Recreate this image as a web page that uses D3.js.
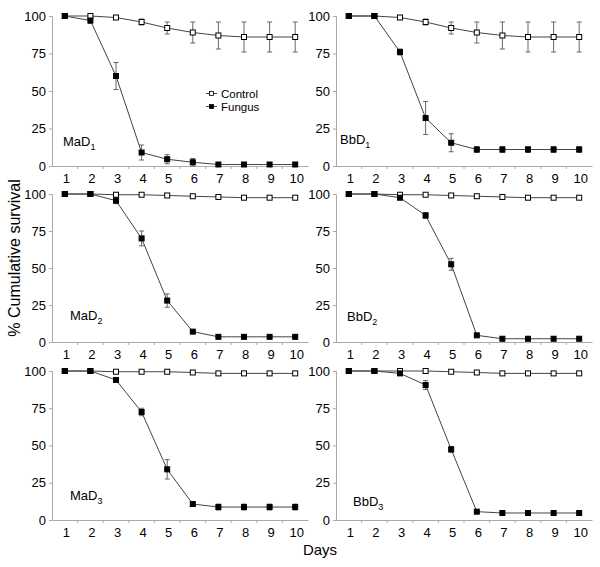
<!DOCTYPE html>
<html><head><meta charset="utf-8">
<script src="https://cdn.jsdelivr.net/npm/d3@7"></script>
<style>body{margin:0;background:#fff}svg{display:block;font-family:"Liberation Sans",Arial,sans-serif}</style>
</head><body><svg id="c" width="600" height="567"></svg>
<script>
const days = [1,2,3,4,5,6,7,8,9,10];
const yTicks = [0,25,50,75,100];
const seriesNames = ["Control","Fungus"];
const panelNames = ["MaD","BbD","MaD","BbD","MaD","BbD"];
const panelSubs = ["1","1","2","2","3","3"];

const maD1Control = [100,100,99,96,92,89,87,86,86,86];
const maD1ControlErr = [0,0,0.5,2,4,7,9,10,10,10];
const maD1Fungus = [100,97,60,9,4.5,2.5,1,1,1,1];
const maD1FungusErr = [0,2,9,5,3,2.5,0.5,0.5,0.5,0.5];

const bbD1Control = [100,100,99,96,92,89,87,86,86,86];
const bbD1ControlErr = [0,0,0.5,2,4,7,9,10,10,10];
const bbD1Fungus = [100,100,76,32,15.5,11,11,11,11,11];
const bbD1FungusErr = [0,0,2,11,6,2,2,2,2,2];

const maD2Control = [100,100,99.5,99.5,99,98.5,98,97.5,97.5,97.5];
const maD2ControlErr = [0,0,0.5,0.5,0.5,0.5,0.5,0.5,0.5,0.5];
const maD2Fungus = [100,100,95.5,70,28,7,3.5,3.5,3.5,3.5];
const maD2FungusErr = [0,0,2,5,4.5,0.5,0.5,0.5,0.5,0.5];

const bbD2Control = [100,100,99.5,99.5,99,98.5,98,97.5,97.5,97.5];
const bbD2ControlErr = [0,0,0.5,0.5,0.5,0.5,0.5,0.5,0.5,0.5];
const bbD2Fungus = [100,100,97.5,85.5,52.5,4.5,2.2,2.2,2.2,2.2];
const bbD2FungusErr = [0,0,1,2,4,0.5,0.5,0.5,0.5,0.5];

const maD3Control = [100,100,99.5,99.5,99.5,99,98.4,98.4,98.4,98.4];
const maD3ControlErr = [0,0,0.5,0.5,0.5,0.5,0.5,0.5,0.5,0.5];
const maD3Fungus = [100,100,94,72.5,34,10.7,8.7,8.7,8.7,8.7];
const maD3FungusErr = [0,0,1,2.5,6.5,1,2,2,2,2];

const bbD3Control = [100,100,100,100,99.5,99,98.4,98.4,98.4,98.4];
const bbD3ControlErr = [0,0,0.5,0.5,0.5,0.5,0.5,0.5,0.5,0.5];
const bbD3Fungus = [100,100,98.4,90.6,47.4,5.6,4.7,4.7,4.7,4.7];
const bbD3FungusErr = [0,0,1,3,2,0.5,0.5,0.5,0.5,0.5];

const panelData = [
  [maD1Control,maD1ControlErr,maD1Fungus,maD1FungusErr],
  [bbD1Control,bbD1ControlErr,bbD1Fungus,bbD1FungusErr],
  [maD2Control,maD2ControlErr,maD2Fungus,maD2FungusErr],
  [bbD2Control,bbD2ControlErr,bbD2Fungus,bbD2FungusErr],
  [maD3Control,maD3ControlErr,maD3Fungus,maD3FungusErr],
  [bbD3Control,bbD3ControlErr,bbD3Fungus,bbD3FungusErr]
];

// layout
const colX = [[52,308],[336,592]];
const rowY = [[166,16],[342,194],[520,371]];
const labelPos = [[63,146],[340,144],[70,320],[347,321],[70,500],[353,506]];

const svg = d3.select("#c");
const axisCol = "#aaa";

panelData.forEach((pd,i)=>{
  const col = i%2, row = Math.floor(i/2);
  const x = d3.scaleBand().domain(days).range(colX[col]).padding(0);
  const y = d3.scaleLinear().domain([0,100]).range(rowY[row]);
  const cx = d => x(d)+x.bandwidth()/2;
  const g = svg.append("g");

  // y axis
  const ya = g.append("g").attr("transform",`translate(${colX[col][0]},0)`)
    .call(d3.axisLeft(y).tickValues(yTicks).tickSize(3).tickPadding(3));
  ya.select(".domain").attr("stroke",axisCol);
  ya.selectAll(".tick line").attr("stroke",axisCol);
  ya.selectAll("text").attr("font-size",13).attr("fill","#000").attr("font-family","Liberation Sans, Arial, sans-serif");

  // x axis
  const xa = g.append("g").attr("transform",`translate(0,${rowY[row][0]})`)
    .call(d3.axisBottom(x).tickSize(0).tickPadding(8));
  xa.select(".domain").attr("stroke",axisCol);
  xa.selectAll("text").attr("font-size",13).attr("fill","#000").attr("dx",1.5).attr("font-family","Liberation Sans, Arial, sans-serif");
  g.selectAll(".bt").data(days.slice(1)).enter().append("line")
    .attr("x1",d=>x(d)).attr("x2",d=>x(d))
    .attr("y1",rowY[row][0]).attr("y2",rowY[row][0]+3)
    .attr("stroke",axisCol);

  const series = [[pd[0],pd[1],"#fff"],[pd[2],pd[3],"#000"]];
  series.forEach(([vals,errs,fill])=>{
    const pts = days.map((d,k)=>({d,v:vals[k],e:errs[k]}));
    // error bars
    pts.filter(p=>p.e>0.6).forEach(p=>{
      const X = cx(p.d);
      g.append("line").attr("x1",X).attr("x2",X).attr("y1",y(p.v-p.e)).attr("y2",y(Math.min(100,p.v+p.e))).attr("stroke","#666");
      [p.v-p.e,Math.min(100,p.v+p.e)].forEach(v=>{
        g.append("line").attr("x1",X-2.5).attr("x2",X+2.5).attr("y1",y(v)).attr("y2",y(v)).attr("stroke","#666");
      });
    });
    g.append("path").datum(pts)
      .attr("d",d3.line().x(p=>cx(p.d)).y(p=>y(p.v)))
      .attr("fill","none").attr("stroke","#444").attr("stroke-width",1);
  });
  series.forEach(([vals,errs,fill])=>{
    g.selectAll(null).data(days.map((d,k)=>({d,v:vals[k]}))).enter().append("rect")
      .attr("x",p=>cx(p.d)-2.5).attr("y",p=>y(p.v)-2.5)
      .attr("width",5).attr("height",5)
      .attr("fill",fill).attr("stroke","#000").attr("stroke-width",1);
  });

  const t = g.append("text").attr("x",labelPos[i][0]).attr("y",labelPos[i][1]).attr("font-size",13);
  t.append("tspan").text(panelNames[i]);
  t.append("tspan").attr("font-size",9).attr("dy",4).text(panelSubs[i]);

  if(i===0){
    const lg = g.append("g");
    seriesNames.forEach((s,k)=>{
      const yy = 93.5 + k*13;
      lg.append("line").attr("x1",206).attr("x2",217).attr("y1",yy).attr("y2",yy).attr("stroke","#444");
      lg.append("rect").attr("x",209.5).attr("y",yy-2).attr("width",4).attr("height",4)
        .attr("fill",k===0?"#fff":"#000").attr("stroke","#000").attr("stroke-width",0.8);
      lg.append("text").attr("x",221).attr("y",yy+4).attr("font-size",11.5).text(s);
    });
  }
});

svg.append("text").attr("transform","translate(20,258) rotate(-90)")
  .attr("text-anchor","middle").attr("font-size",16).text("% Cumulative  survival");
svg.append("text").attr("x",320).attr("y",555).attr("text-anchor","middle").attr("font-size",15).text("Days");
</script></body></html>
